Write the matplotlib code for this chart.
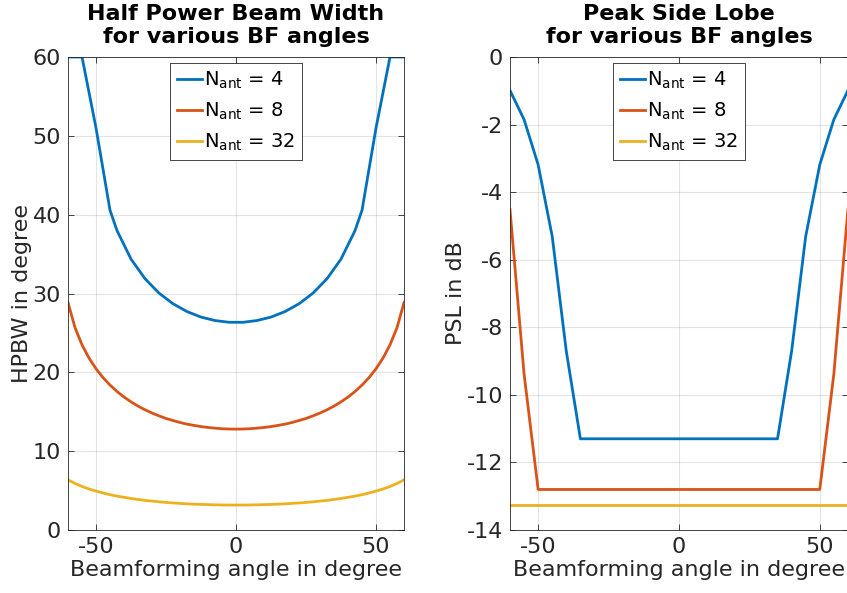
import matplotlib.pyplot as plt
import numpy as np

plt.rcParams['font.family'] = 'DejaVu Sans'
plt.rcParams['mathtext.fontset'] = 'dejavusans'
plt.rcParams['axes.unicode_minus'] = False

# half power beam width in degree, over beamforming angle
ang_hp4 = [-60, -55, -50, -45, -42.5, -37.5, -32.5, -27.5, -22.5, -17.5, -12.5, -7.5, -2.5,
           2.5, 7.5, 12.5, 17.5, 22.5, 27.5, 32.5, 37.5, 42.5, 45, 50, 55, 60]
hpbw_4 = [60.0, 60.0, 51.0, 40.56, 37.98, 34.37, 31.88, 30.05, 28.70, 27.71, 27.01, 26.57, 26.35,
          26.35, 26.57, 27.01, 27.71, 28.70, 30.05, 31.88, 34.37, 37.98, 40.56, 51.0, 60.0, 60.0]

ang_hp = [-60, -57.5, -55, -52.5, -50, -47.5, -45, -42.5, -40, -37.5, -35, -32.5, -30, -27.5,
          -25, -22.5, -20, -17.5, -15, -12.5, -10, -7.5, -5, -2.5, 0, 2.5, 5, 7.5, 10, 12.5,
          15, 17.5, 20, 22.5, 25, 27.5, 30, 32.5, 35, 37.5, 40, 42.5, 45, 47.5, 50, 52.5,
          55, 57.5, 60]
hpbw_8 = [28.85, 25.67, 23.49, 21.81, 20.46, 19.33, 18.39, 17.57, 16.87, 16.26, 15.72, 15.25,
          14.84, 14.48, 14.15, 13.89, 13.64, 13.43, 13.27, 13.12, 13.01, 12.92, 12.85, 12.81,
          12.80, 12.81, 12.85, 12.92, 13.01, 13.12, 13.27, 13.43, 13.64, 13.89, 14.15, 14.48,
          14.84, 15.25, 15.72, 16.26, 16.87, 17.57, 18.39, 19.33, 20.46, 21.81, 23.49, 25.67,
          28.85]
hpbw_32 = [6.36, 5.91, 5.52, 5.21, 4.94, 4.70, 4.48, 4.30, 4.15, 4.00, 3.88, 3.76, 3.67,
           3.58, 3.50, 3.43, 3.38, 3.32, 3.28, 3.25, 3.22, 3.20, 3.18, 3.17, 3.17, 3.17,
           3.18, 3.20, 3.22, 3.25, 3.28, 3.32, 3.38, 3.43, 3.50, 3.58, 3.67, 3.76, 3.88,
           4.00, 4.15, 4.30, 4.48, 4.70, 4.94, 5.21, 5.52, 5.91, 6.36]

# peak side lobe level in dB, 5 degree steps
ang_psl = [-60, -55, -50, -45, -40, -35, -30, -25, -20, -15, -10, -5, 0,
           5, 10, 15, 20, 25, 30, 35, 40, 45, 50, 55, 60]
psl_4 = [-0.99, -1.85, -3.19, -5.31, -8.71, -11.3, -11.3, -11.3, -11.3, -11.3, -11.3, -11.3, -11.3,
         -11.3, -11.3, -11.3, -11.3, -11.3, -11.3, -11.3, -8.71, -5.31, -3.19, -1.85, -0.99]
psl_8 = [-4.51, -9.38, -12.8, -12.8, -12.8, -12.8, -12.8, -12.8, -12.8, -12.8, -12.8, -12.8, -12.8,
         -12.8, -12.8, -12.8, -12.8, -12.8, -12.8, -12.8, -12.8, -12.8, -12.8, -9.38, -4.51]
psl_32 = [-13.25] * len(ang_psl)

labels = [r'N$_{\mathrm{ant}}$ = 4', r'N$_{\mathrm{ant}}$ = 8', r'N$_{\mathrm{ant}}$ = 32']
colors = ['#0072BD', '#D95319', '#EDB120']
txt = '#262626'
fs = 16

fig = plt.figure(figsize=(8.47, 5.93), dpi=100)
ax1 = fig.add_axes([0.0803, 0.1062, 0.3967, 0.7977])
ax2 = fig.add_axes([0.6021, 0.1062, 0.3990, 0.7977])


def style(ax, title, ylabel):
    ax.set_title(title, fontsize=fs, fontweight='bold', color='black', pad=10, linespacing=1.17)
    ax.set_xlabel('Beamforming angle in degree', fontsize=fs, color=txt, labelpad=2)
    ax.set_ylabel(ylabel, fontsize=fs, color=txt, labelpad=0.5)
    ax.set_xlim(-60, 60)
    ax.set_xticks([-50, 0, 50])
    ax.grid(True, color='#262626', alpha=0.12, linewidth=0.8)
    ax.tick_params(direction='in', length=4, width=0.6, colors=txt, labelsize=fs,
                   top=True, right=True, pad=5)
    for s in ax.spines.values():
        s.set_color('#262626')
        s.set_linewidth(0.6)
    leg = ax.legend(loc='upper center', fontsize=14, handlelength=1.3, handletextpad=0.1,
                    borderaxespad=0.3, borderpad=0.35, labelspacing=0.5, fancybox=False,
                    framealpha=1, edgecolor='#262626')
    leg.get_frame().set_linewidth(0.6)


ax1.plot(ang_hp4, hpbw_4, color=colors[0], linewidth=2, label=labels[0])
ax1.plot(ang_hp, hpbw_8, color=colors[1], linewidth=2, label=labels[1])
ax1.plot(ang_hp, hpbw_32, color=colors[2], linewidth=2, label=labels[2])
ax1.set_ylim(0, 60)
ax1.set_yticks([0, 10, 20, 30, 40, 50, 60])
style(ax1, 'Half Power Beam Width\nfor various BF angles', 'HPBW in degree')

for y, lab, c in zip([psl_4, psl_8, psl_32], labels, colors):
    ax2.plot(ang_psl, y, color=c, linewidth=2, label=lab)
ax2.set_ylim(-14, 0)
ax2.set_yticks(np.arange(-14, 1, 2))
style(ax2, 'Peak Side Lobe\nfor various BF angles', 'PSL in dB')

fig.savefig('out.png', dpi=100)
